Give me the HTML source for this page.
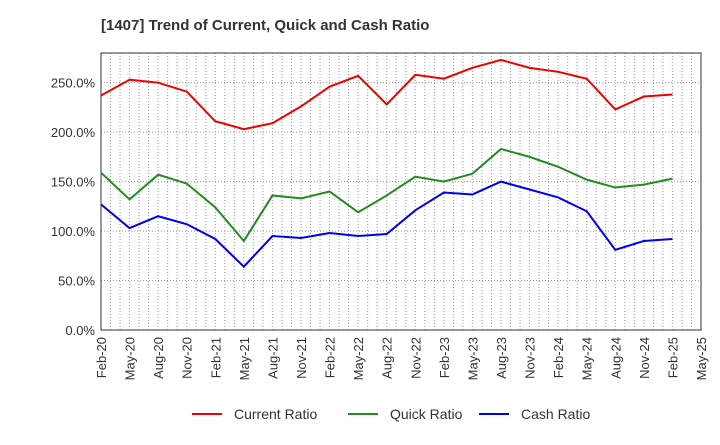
<!DOCTYPE html>
<html><head><meta charset="utf-8"><style>
body{margin:0;background:#fff;font-family:"Liberation Sans",sans-serif;}
</style></head><body>
<svg id="c" width="720" height="440" xmlns="http://www.w3.org/2000/svg">
<text x="101" y="30" font-size="15" font-weight="bold" fill="#333">[1407]  Trend of Current, Quick and Cash Ratio</text>
<g id="grid"></g><g id="axes"></g><g id="series"></g><g id="legend"></g>
</svg>
<script>
const categories=["Feb-20","May-20","Aug-20","Nov-20","Feb-21","May-21","Aug-21","Nov-21","Feb-22","May-22","Aug-22","Nov-22","Feb-23","May-23","Aug-23","Nov-23","Feb-24","May-24","Aug-24","Nov-24","Feb-25","May-25"];
const currentRatio=[237,253,250,241,211,203,209,226,246,257,228,258,254,265,273,265,261,254,223,236,238];
const quickRatio=[159,132,157,148,124,90,136,133,140,119,136,155,150,158,183,175,165,152,144,147,153];
const cashRatio=[127,103,115,107,92,64,95,93,98,95,97,121,139,137,150,142,134,120,81,90,92];
const yTicks=[0,50,100,150,200,250];
const yTickLabels=["0.0%","50.0%","100.0%","150.0%","200.0%","250.0%"];
const L=101,R=701,T=53,B=330,YMAX=280;
const ns="http://www.w3.org/2000/svg";
const xs=i=>L+i*(R-L)/(categories.length-1);
const ys=v=>B-v/YMAX*(B-T);
function mk(tag,attrs,parent,text){const e=document.createElementNS(ns,tag);for(const k in attrs)e.setAttribute(k,attrs[k]);if(text!==undefined)e.textContent=text;document.getElementById(parent).appendChild(e);return e;}
// monthly vertical grid
for(let m=1;m<(categories.length-1)*3;m++){const x=L+m*(R-L)/((categories.length-1)*3);
const g=mk("line",{x1:x,x2:x,y1:T,y2:B,stroke:"#999","stroke-dasharray":"1,2","stroke-width":1},"grid");

}
yTicks.forEach((v,i)=>{const y=ys(v);
const g=mk("line",{x1:L,x2:R,y1:y,y2:y,stroke:"#999","stroke-dasharray":"1,2"},"grid");


const t=mk("text",{x:L-6,y:y+5,"text-anchor":"end","font-size":13,fill:"#333"},"axes",yTickLabels[i]);

});
const fr=mk("rect",{x:L,y:T,width:R-L,height:B-T,fill:"none",stroke:"#333"},"axes");


categories.forEach((c,i)=>{const x=xs(i);
const t=mk("text",{x:x+5,y:B+7,"text-anchor":"end","font-size":13,fill:"#333",transform:`rotate(-90 ${x+5} ${B+7})`},"axes",c);

});
const series=[["current-ratio-line",currentRatio,"#e00"],["quick-ratio-line",quickRatio,"#228B22"],["cash-ratio-line",cashRatio,"#00e"]];
series.forEach(([n,d,col])=>{const p=mk("polyline",{points:d.map((v,i)=>xs(i)+","+ys(v)).join(" "),fill:"none",stroke:col,"stroke-width":2},"series");

});
const leg=[["Current Ratio","#e00",192],["Quick Ratio","#228B22",348],["Cash Ratio","#00e",479]];
leg.forEach(([n,col,x])=>{
const l=mk("line",{x1:x,x2:x+30,y1:414,y2:414,stroke:col,"stroke-width":2},"legend");


const t=mk("text",{x:x+42,y:419,"font-size":14,fill:"#333"},"legend",n);

});
</script>
</body></html>
